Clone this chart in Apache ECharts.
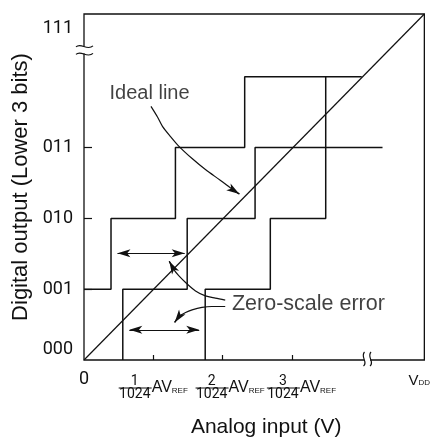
<!DOCTYPE html>
<html><head><meta charset="utf-8">
<script src="https://cdn.jsdelivr.net/npm/echarts@6/dist/echarts.min.js"></script>
<style>html,body{margin:0;padding:0;background:#fff}#c{width:433px;height:443px}</style>
</head><body><div id="c"></div>
<script>
// ---- data (x: LSB steps of analog input, y: output code level) ----
const xMax = 4.914, yMax = 4.887;
const idealLine = [[0, 0], [4.914, 4.887]];
const stairA = [[0, 1], [0.39, 1], [0.39, 2], [1.32, 2], [1.32, 3], [2.32, 3], [2.32, 4], [4.01, 4]];
const stairB = [[0.56, 0], [0.56, 1], [1.49, 1], [1.49, 2], [2.47, 2], [2.47, 3], [4.31, 3]];
const stairC = [[1.75, 0], [1.75, 1], [2.69, 1], [2.69, 2], [3.49, 2], [3.49, 4]];
const yLabelValues = [0.155, 1, 2, 3, 4.676];
const yLabels = ['000', '001', '010', '011', '111'];
const yTickValues = [1, 2, 3];
const xLabelValues = [0, 1.0, 2.11, 3.14, 4.84];
const xLabels = ['0', '1', '2', '3', 'VDD'];
const xDenominator = '1024';
const xTickValues = [1, 2, 3];
const textNotes = [
  { name: 'Ideal line', value: [0.947, 3.768] },
  { name: 'Zero-scale error', value: [3.24, 0.789] }
];
const leaderIdeal = [[0.967, 3.582], [1.061, 3.432], [1.133, 3.300], [1.253, 3.151], [1.371, 3.018], [1.561, 2.845], [1.753, 2.690], [1.967, 2.539], [2.181, 2.385], [2.243, 2.346]];
const leaderZeroUpper = [[2.039, 0.845], [1.896, 0.873], [1.753, 0.906], [1.610, 0.976], [1.467, 1.094], [1.371, 1.187], [1.300, 1.272], [1.231, 1.394]];
const leaderZeroLower = [[2.039, 0.756], [1.847, 0.756], [1.704, 0.742], [1.561, 0.708], [1.467, 0.672], [1.371, 0.615], [1.309, 0.531]];
const spanArrows = [
  [[0.483, 1.507], [1.454, 1.507]],
  [[0.654, 0.427], [1.664, 0.427]]
];
const yBreak = 4.38, xBreak = 4.086;

const FONT = 'Liberation Sans';
const DIGIT = 'Roboto';
const INK = '#111';

const chart = echarts.init(document.getElementById('c'), null, { renderer: 'canvas' });

function plainLine(d, w, smooth) {
  return { type: 'line', data: d, symbol: 'none', showSymbol: false, silent: true, smooth: smooth || false,
    lineStyle: { color: INK, width: w }, z: 3 };
}
function tipOf(d) { return [d[d.length - 2], d[d.length - 1]]; }

const option = {
  animation: false,
  backgroundColor: '#fff',
  textStyle: { fontFamily: FONT, color: INK },
  grid: { left: 84, top: 14, width: 344, height: 347, show: true, borderColor: INK, borderWidth: 1.3, backgroundColor: 'transparent' },
  xAxis: {
    type: 'value', min: 0, max: xMax,
    name: 'Analog input (V)', nameLocation: 'middle', nameGap: 57, nameMoveOverlap: false,
    nameTextStyle: { fontSize: 21, color: INK, fontFamily: FONT, padding: [0, 0, 0, 24] },
    axisLine: { show: false },
    splitLine: { show: false },
    axisTick: { show: true, inside: true, length: 5, customValues: xTickValues, lineStyle: { color: INK, width: 1.2 } },
    axisLabel: {
      show: true, margin: 15, customValues: xLabelValues, hideOverlap: false, color: INK, fontFamily: FONT, fontSize: 14,
      formatter: function (v) {
        let i = xLabelValues.findIndex(function (u) { return Math.abs(u - v) < 1e-6; });
        const t = xLabels[i];
        if (t === '0') return '{zero|0}';
        if (t === 'VDD') return '{v|V}{dd|DD}';
        return '{num|' + t + '}{gap| }\n{bar| }{av|AV}{ref|REF}\n{den|' + xDenominator + '}{gap| }';
      },
      rich: {
        zero: { fontSize: 18, lineHeight: 8, fontFamily: DIGIT, color: INK },
        num: { fontSize: 14, width: 33, align: 'center', lineHeight: 12, fontFamily: DIGIT, color: INK },
        gap: { width: 37, lineHeight: 10, fontSize: 8, fontFamily: FONT },
        bar: { width: 33, height: 1, lineHeight: 2, fontSize: 2, backgroundColor: INK },
        av: { fontSize: 16, lineHeight: 2, height: 2, fontFamily: FONT, color: INK },
        ref: { fontSize: 8, lineHeight: 2, height: 2, padding: [6, 0, 0, 0], fontFamily: FONT, color: INK },
        den: { fontSize: 14, width: 33, align: 'center', lineHeight: 10, fontFamily: DIGIT, color: INK },
        v: { fontSize: 15, lineHeight: 12, fontFamily: FONT, color: INK },
        dd: { fontSize: 8, lineHeight: 12, height: 8, verticalAlign: 'bottom', fontFamily: FONT, color: INK }
      }
    }
  },
  yAxis: {
    type: 'value', min: 0, max: yMax,
    name: 'Digital output (Lower 3 bits)', nameLocation: 'middle', nameGap: 52, nameRotate: 90, nameMoveOverlap: false,
    nameTextStyle: { fontSize: 22, color: INK, fontFamily: FONT },
    axisLine: { show: false },
    splitLine: { show: false },
    axisTick: { show: true, inside: true, length: 8, customValues: yTickValues, lineStyle: { color: INK, width: 1.2 } },
    axisLabel: {
      show: true, margin: 11, customValues: yLabelValues, color: INK,
      formatter: function (v) {
        let i = yLabelValues.findIndex(function (u) { return Math.abs(u - v) < 1e-6; });
        return '{t|' + yLabels[i] + '}';
      },
      rich: { t: { fontSize: 18, fontFamily: DIGIT, color: INK, fontWeight: 'normal' } }
    }
  },
  series: [
    plainLine(idealLine, 1.2),
    plainLine(stairA, 1.5), plainLine(stairB, 1.5), plainLine(stairC, 1.5),
    plainLine(leaderIdeal, 1.2, 0.3), plainLine(leaderZeroUpper, 1.2, 0.3), plainLine(leaderZeroLower, 1.2, 0.3),
    {
      type: 'lines', coordinateSystem: 'cartesian2d', polyline: false, silent: true, z: 5,
      symbol: ['none', 'arrow'], symbolSize: [[6, 13], [6, 13]],
      lineStyle: { color: INK, width: 1.2, opacity: 1 },
      data: [leaderIdeal, leaderZeroUpper, leaderZeroLower].map(function (d) { return { coords: tipOf(d) }; })
    },
    {
      type: 'lines', coordinateSystem: 'cartesian2d', polyline: false, silent: true, z: 5,
      symbol: ['arrow', 'arrow'], symbolSize: [[6, 13], [6, 13]],
      lineStyle: { color: INK, width: 1.2, opacity: 1 },
      data: spanArrows.map(function (c) { return { coords: c }; })
    },
    {
      type: 'scatter', symbolSize: 0, silent: true, z: 6,
      label: { show: true, position: 'inside', formatter: '{b}', fontFamily: FONT, color: INK, fontSize: 20 },
      data: textNotes.map(function (t, i) {
        return { name: t.name, value: t.value, label: { fontSize: i === 0 ? 20 : 21.5 } };
      })
    }
  ]
};
chart.setOption(option);

const yb = chart.convertToPixel({ gridIndex: 0 }, [0, yBreak]);
const xb = chart.convertToPixel({ gridIndex: 0 }, [xBreak, 0]);
const bx = yb[0], by = yb[1], cx = xb[0], cy = xb[1];
const stroke = { stroke: INK, lineWidth: 1.2, fill: null };
chart.setOption({
  graphic: [
    { type: 'rect', z: 100, shape: { x: bx - 4, y: by - 3.5, width: 8, height: 7 }, style: { fill: '#fff' } },
    { type: 'bezierCurve', z: 101, shape: { x1: bx - 8, y1: by - 3, cpx1: bx - 3, cpy1: by - 8, cpx2: bx + 3, cpy2: by + 1.5, x2: bx + 9, y2: by - 4 }, style: stroke },
    { type: 'bezierCurve', z: 101, shape: { x1: bx - 8, y1: by + 4.5, cpx1: bx - 3, cpy1: by - 0.5, cpx2: bx + 3, cpy2: by + 9, x2: bx + 9, y2: by + 3.5 }, style: stroke },
    { type: 'rect', z: 100, shape: { x: cx - 3, y: cy - 3, width: 6, height: 6 }, style: { fill: '#fff' } },
    { type: 'bezierCurve', z: 101, shape: { x1: cx - 2.5, y1: cy - 8, cpx1: cx - 7, cpy1: cy - 3, cpx2: cx + 1.5, cpy2: cy + 2, x2: cx - 3.5, y2: cy + 6 }, style: stroke },
    { type: 'bezierCurve', z: 101, shape: { x1: cx + 4, y1: cy - 8, cpx1: cx - 0.5, cpy1: cy - 3, cpx2: cx + 8, cpy2: cy + 2, x2: cx + 3, y2: cy + 6 }, style: stroke }
  ]
});
</script>
</body></html>
